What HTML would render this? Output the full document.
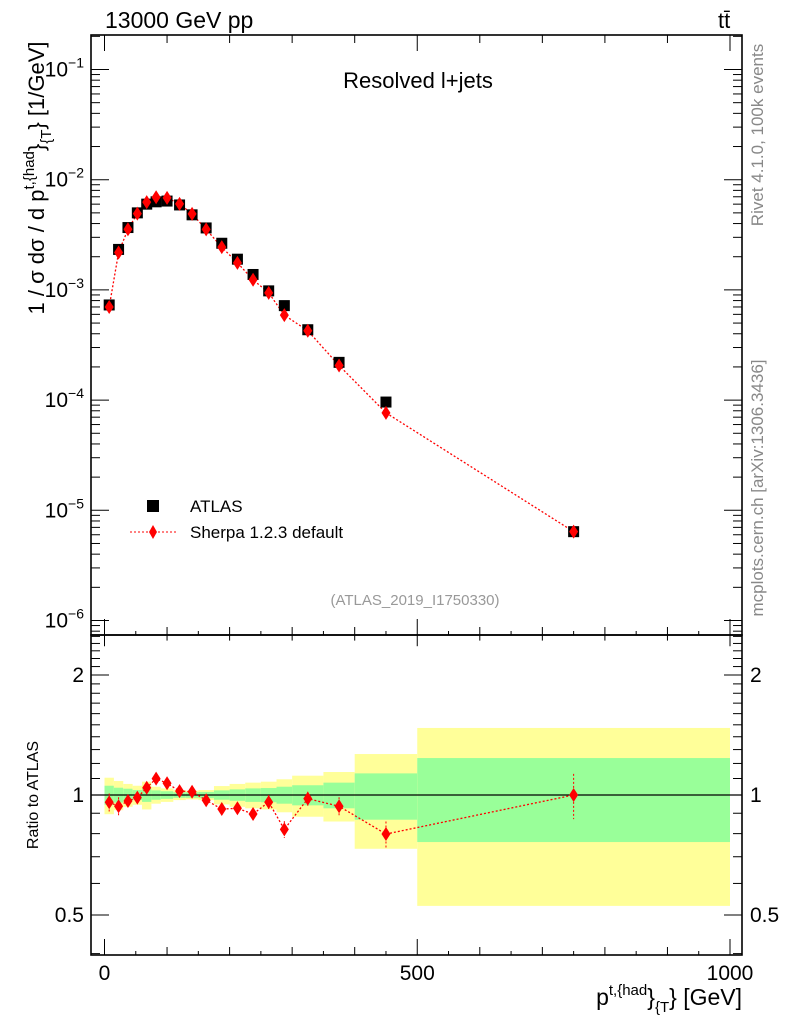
<!DOCTYPE html>
<html><head><meta charset="utf-8"><style>
body{margin:0;background:#fff;}
svg text{font-family:"Liberation Sans",sans-serif;}
</style></head><body>
<svg id="c" width="786" height="1024" viewBox="0 0 786 1024" xmlns="http://www.w3.org/2000/svg">
<text x="105" y="28" font-size="23">13000 GeV pp</text>
<text x="718" y="28" font-size="22">tt̄</text>
<text x="418" y="88" font-size="22" text-anchor="middle">Resolved l+jets</text>
<text x="415" y="605" font-size="15" fill="#999" text-anchor="middle">(ATLAS_2019_I1750330)</text>
<text transform="translate(763,135) rotate(-90)" font-size="17" fill="#888" text-anchor="middle">Rivet 4.1.0,  100k events</text>
<text transform="translate(763,488) rotate(-90)" font-size="17" fill="#888" text-anchor="middle">mcplots.cern.ch [arXiv:1306.3436]</text>
<text transform="translate(44,178) rotate(-90)" font-size="22" text-anchor="middle">1 / σ dσ / d p<tspan font-size="15" dy="-10">t,{had</tspan><tspan dy="10">}</tspan><tspan font-size="15" dy="7">{T</tspan><tspan dy="-7">} [1/GeV]</tspan></text>
<text transform="translate(38,795) rotate(-90)" font-size="16" text-anchor="middle">Ratio to ATLAS</text>
<text x="742" y="1005" font-size="23" text-anchor="end">p<tspan font-size="15" dy="-10">t,{had</tspan><tspan dy="10">}</tspan><tspan font-size="15" dy="7">{T</tspan><tspan dy="-7">} [GeV]</tspan></text>
<g>
<rect x="147" y="500" width="12" height="12" fill="#000"/>
<text x="190" y="512" font-size="17">ATLAS</text>
<line x1="130" y1="532" x2="176" y2="532" stroke="red" stroke-dasharray="2,2"/>
<path d="M153,525 L157,532 L153,539 L149,532Z" fill="red"/>
<text x="190" y="538" font-size="17">Sherpa 1.2.3 default</text>
</g>
</svg>
<script>
const binEdges=[0,15,30,45,60,75,90,110,130,150,175,200,225,250,275,300,350,400,500,1000];
const xCenters=[7.5,22.5,37.5,52.5,67.5,82.5,100,120,140,162.5,187.5,212.5,237.5,262.5,287.5,325,375,450,750];
const atlasValues=[7.3e-4,2.33e-3,3.68e-3,5.0e-3,6.0e-3,6.3e-3,6.4e-3,5.9e-3,4.8e-3,3.65e-3,2.65e-3,1.9e-3,1.38e-3,9.8e-4,7.2e-4,4.35e-4,2.2e-4,9.6e-5,6.4e-6];
const sherpaRatio=[0.959,0.937,0.966,0.985,1.043,1.099,1.070,1.023,1.019,0.970,0.922,0.926,0.896,0.960,0.820,0.979,0.937,0.798,1.0];
const sherpaRatioErr=[0.05,0.05,0.02,0.02,0.02,0.02,0.02,0.02,0.02,0.02,0.02,0.02,0.03,0.04,0.04,0.04,0.05,0.06,0.13];
const totalBand=[0.105,0.084,0.066,0.055,0.080,0.049,0.039,0.029,0.025,0.029,0.053,0.066,0.074,0.080,0.095,0.118,0.142,0.267,0.473];
const statBand=[0.055,0.043,0.037,0.029,0.039,0.027,0.022,0.016,0.016,0.018,0.027,0.033,0.039,0.041,0.049,0.058,0.074,0.133,0.238];
const xTicks=[0,500,1000];
const yTicks=[-6,-5,-4,-3,-2,-1];
const ratioTicks=[0.5,1,2];

const svg=document.getElementById('c');
const NS='http://www.w3.org/2000/svg';
const L=91,R=742,T=35,M=635,B=955;
const xs=v=>104.5+v*0.6255;
const ys=v=>69.5-(Math.log10(v)+1)*110.2;
const yr=v=>795-Math.log10(v)*398.6;
function mk(tag,attrs,parent){const e=document.createElementNS(NS,tag);for(const k in attrs)e.setAttribute(k,attrs[k]);(parent||svg).appendChild(e);return e;}

for(let i=0;i<totalBand.length;i++){
  const x0=xs(binEdges[i]),x1=xs(binEdges[i+1]);
  const r1=mk('rect',{x:x0,y:yr(1+totalBand[i]),width:x1-x0,height:yr(1-totalBand[i])-yr(1+totalBand[i]),fill:'#ffff99'});
  
  
  const r2=mk('rect',{x:x0,y:yr(1+statBand[i]),width:x1-x0,height:yr(1-statBand[i])-yr(1+statBand[i]),fill:'#99ff99'});
  
  
}
const one=mk('line',{x1:L,x2:R,y1:yr(1),y2:yr(1),stroke:'#000','stroke-width':1.3});



const f1=mk('rect',{x:L,y:T,width:R-L,height:M-T,fill:'none',stroke:'#000','stroke-width':1.6});


const f2=mk('rect',{x:L,y:M,width:R-L,height:B-M,fill:'none',stroke:'#000','stroke-width':1.6});



for(let v=0;v<=1000;v+=100){
  const maj=(v%500===0);const len=maj?16:8;const x=xs(v);
  [[T,T+len],[M,M-len],[M,M+len*0.7],[B,B-len]].forEach(p=>{
    const t=mk('line',{x1:x,x2:x,y1:p[0],y2:p[1],stroke:'#000'});
    
    
  });
}
for(let v=50;v<1000;v+=100){const x=xs(v);[[M,M-4],[B,B-4]].forEach(p=>{const t=mk('line',{x1:x,x2:x,y1:p[0],y2:p[1],stroke:'#000'});});}
xTicks.forEach(v=>{const t=mk('text',{x:xs(v),y:980,'font-size':21,'text-anchor':'middle'});t.textContent=v;
  
  });

for(let d=-7;d<=-1;d++){for(let m=1;m<10;m++){const v=m*Math.pow(10,d);const y=ys(v);if(y<T||y>M)continue;const len=m===1?18:9;
  [[L,L+len],[R,R-len]].forEach(p=>{const t=mk('line',{x1:p[0],x2:p[1],y1:y,y2:y,stroke:'#000'});});}}
yTicks.forEach(d=>{const t=mk('text',{x:84,y:ys(Math.pow(10,d))+7,'font-size':21,'text-anchor':'end'});
  t.innerHTML='10<tspan font-size="14" dy="-9">−'+(-d)+'</tspan>';
  
  });

for(let v=0.4;v<=2.55;v+=0.1){const y=yr(v);if(y<M||y>B)continue;const r=Math.round(v*10)/10;const maj=(r===0.5||r===1||r===2);const len=maj?18:9;
  [[L,L+len],[R,R-len]].forEach(p=>{const t=mk('line',{x1:p[0],x2:p[1],y1:y,y2:y,stroke:'#000'});});}
ratioTicks.forEach(v=>{[[84,'end'],[750,'start']].forEach(p=>{const t=mk('text',{x:p[0],y:yr(v)+7,'font-size':21,'text-anchor':p[1]});t.textContent=v;
  
  });});

const sherpaVals=atlasValues.map((a,i)=>a*sherpaRatio[i]);
const ln=mk('polyline',{points:xCenters.map((x,i)=>xs(x)+','+ys(sherpaVals[i])).join(' '),fill:'none',stroke:'red','stroke-width':1.3,'stroke-dasharray':'2,2'});


atlasValues.forEach((v,i)=>{const r=mk('rect',{x:xs(xCenters[i])-5.5,y:ys(v)-5.5,width:11,height:11,fill:'#000'});
  
  });
sherpaVals.forEach((v,i)=>{const x=xs(xCenters[i]),y=ys(v);const p=mk('path',{d:`M${x},${y-7}L${x+4.5},${y}L${x},${y+7}L${x-4.5},${y}Z`,fill:'red'});
  
  });

const rl=mk('polyline',{points:xCenters.map((x,i)=>xs(x)+','+yr(sherpaRatio[i])).join(' '),fill:'none',stroke:'red','stroke-width':1.3,'stroke-dasharray':'2,2'});


sherpaRatio.forEach((v,i)=>{const x=xs(xCenters[i]),y=yr(v);
  const e=mk('line',{x1:x,x2:x,y1:yr(v+sherpaRatioErr[i]),y2:yr(v-sherpaRatioErr[i]),stroke:'red','stroke-dasharray':'2,2'});
  
  
  const p=mk('path',{d:`M${x},${y-7}L${x+4.5},${y}L${x},${y+7}L${x-4.5},${y}Z`,fill:'red'});
  
  });
</script>
</body></html>
